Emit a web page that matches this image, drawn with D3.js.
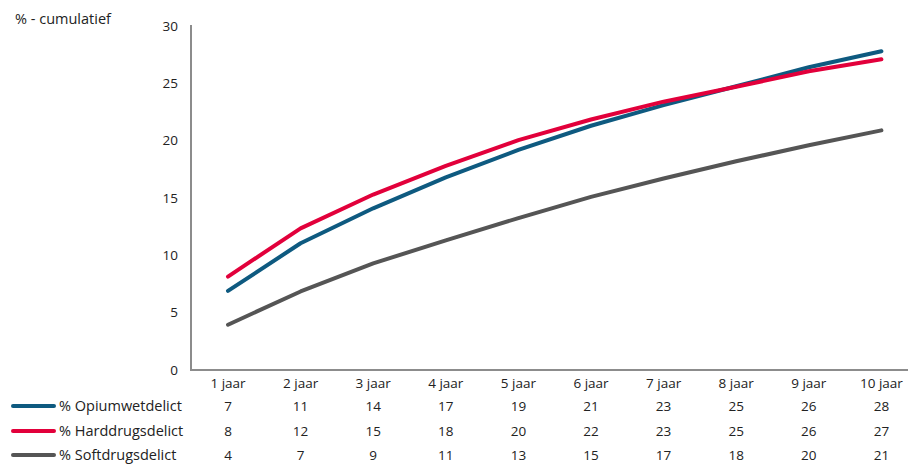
<!DOCTYPE html>
<html><head><meta charset="utf-8">
<script src="https://cdn.jsdelivr.net/npm/d3@7"></script>
<style>body{margin:0;background:#fff}svg{display:block}text{font-family:"Open Sans",sans-serif;fill:#222}</style>
</head><body><svg id="c" width="909" height="465"></svg>
<script>
const categories = ["1 jaar","2 jaar","3 jaar","4 jaar","5 jaar","6 jaar","7 jaar","8 jaar","9 jaar","10 jaar"];
const seriesNames = ["% Opiumwetdelict","% Harddrugsdelict","% Softdrugsdelict"];
const opium = [6.9, 11.05, 14.1, 16.8, 19.2, 21.3, 23.1, 24.75, 26.4, 27.8];
const hard  = [8.15, 12.35, 15.3, 17.8, 20.05, 21.85, 23.4, 24.7, 26.05, 27.1];
const soft  = [3.95, 6.85, 9.3, 11.3, 13.25, 15.1, 16.7, 18.2, 19.6, 20.9];
const opiumTable = [7,11,14,17,19,21,23,25,26,28];
const hardTable  = [8,12,15,18,20,22,23,25,26,27];
const softTable  = [4,7,9,11,13,15,17,18,20,21];
const yTicks = [0,5,10,15,20,25,30];
const colors = ["#0e5a80","#e2003b","#555555"];

const svg = d3.select("#c");
const x = d3.scaleBand().domain(categories).range([191.7, 917.7]);
const y = d3.scaleLinear().domain([0,30]).range([370, 26]);
const cx = c => x(c) + x.bandwidth()/2;

// axes
svg.append("line").attr("x1",191).attr("x2",191).attr("y1",25).attr("y2",371)
  .attr("stroke","#8c8c8c").attr("stroke-width",2);
svg.append("line").attr("x1",190).attr("x2",908).attr("y1",370).attr("y2",370)
  .attr("stroke","#8c8c8c").attr("stroke-width",2);

svg.append("g").selectAll("text").data(yTicks).join("text")
  .attr("x",178).attr("y",d=>y(d)).attr("dy","0.35em").attr("text-anchor","end")
  .attr("font-size",13.5).text(d=>d);

svg.append("g").selectAll("text").data(categories).join("text")
  .attr("x",d=>cx(d)).attr("y",383).attr("dy","0.35em").attr("text-anchor","middle")
  .attr("font-size",13.5).text(d=>d);

svg.append("text").attr("x",15).attr("y",24).attr("font-size",14.5).text("% - cumulatief");

const series = [opium, hard, soft];
const tables = [opiumTable, hardTable, softTable];
const line = d3.line().x((d,i)=>cx(categories[i])).y(d=>y(d));
series.forEach((s,k)=>{
  svg.append("path").datum(s).attr("d",line).attr("fill","none")
    .attr("stroke",colors[k]).attr("stroke-width",4).attr("stroke-linecap","round").attr("stroke-linejoin","round");
});

const rowY = [406, 431, 455];
seriesNames.forEach((n,k)=>{
  svg.append("line").attr("x1",13).attr("x2",54).attr("y1",rowY[k]).attr("y2",rowY[k])
    .attr("stroke",colors[k]).attr("stroke-width",4).attr("stroke-linecap","round");
  svg.append("text").attr("x",59).attr("y",rowY[k]).attr("dy","0.35em").attr("font-size",14.5).text(n);
  svg.append("g").selectAll("text").data(tables[k]).join("text")
    .attr("x",(d,i)=>cx(categories[i])).attr("y",rowY[k]).attr("dy","0.35em")
    .attr("text-anchor","middle").attr("font-size",13.5).text(d=>d);
});
</script></body></html>
